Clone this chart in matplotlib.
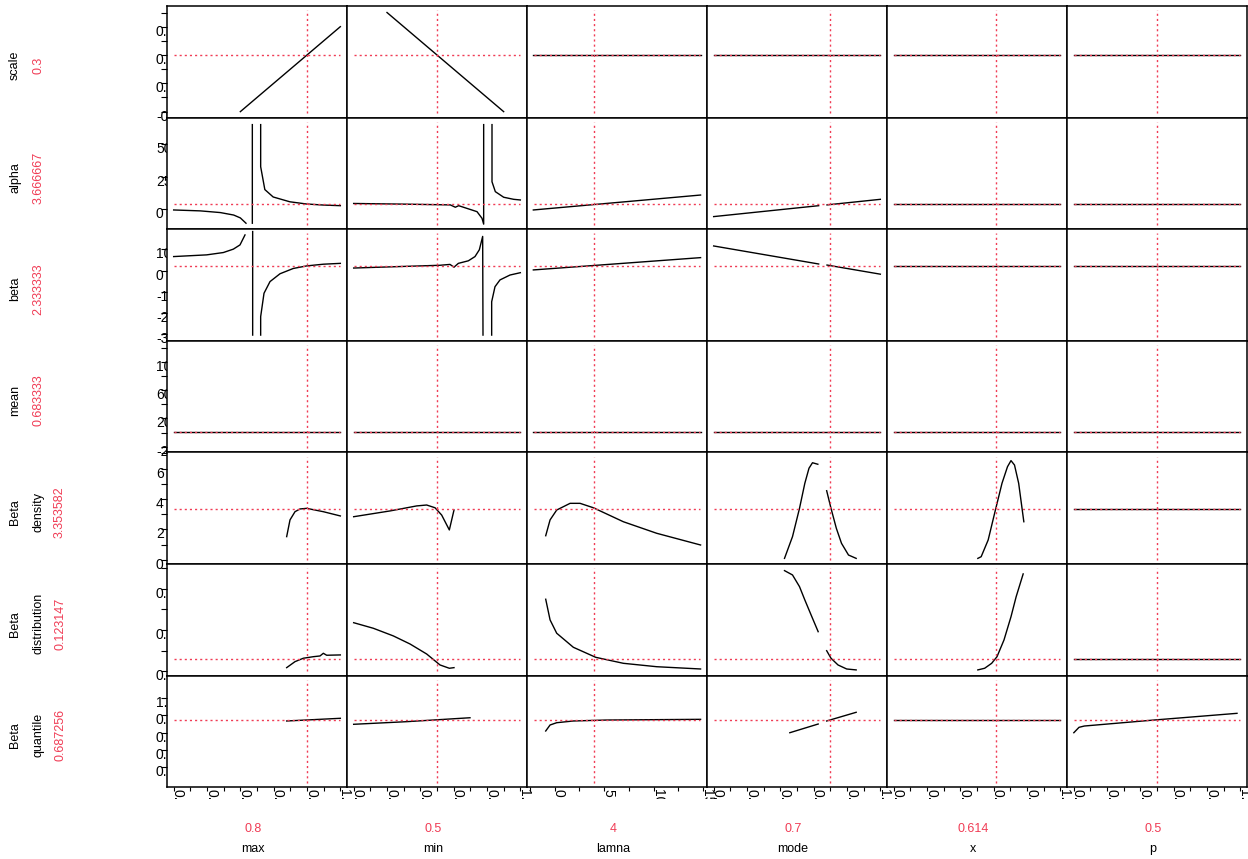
import numpy as np
import matplotlib
matplotlib.use("Agg")
import matplotlib.pyplot as plt
import matplotlib.transforms as mtransforms

plt.rcParams["font.family"] = ["Liberation Sans", "DejaVu Sans"]

NA = np.nan
RED = "#f03c55"
W, H = 1248, 859

# ── inputs along the bottom (one column each) ─────────────────────────────────
COL_NAMES  = ["max", "min", "lamna", "mode", "x", "p"]
COL_VALUES = [0.8, 0.5, 4, 0.7, 0.614, 0.5]
COL_LABELS = ["0.8", "0.5", "4", "0.7", "0.614", "0.5"]
COL_LIMITS = [(-0.04, 1.04), (-0.04, 1.04), (-2.78, 15.4),
              (-0.04, 1.04), (-0.04, 1.04), (-0.04, 1.04)]

UNIT_TICKS  = [0.0, 0.1, 0.2, 0.3, 0.4, 0.5, 0.6, 0.7, 0.8, 0.9, 1.0]
UNIT_LABELS = ["0.0", "", "0.2", "", "0.4", "", "0.6", "", "0.8", "", "1.0"]
LAMNA_TICKS  = [-2.5, 0, 2.5, 5, 7.5, 10, 12.5, 15]
LAMNA_LABELS = ["", "0", "", "5", "", "10", "", "15"]

# ── outputs down the side (one row each) ──────────────────────────────────────
ROW_NAMES  = [["scale"], ["alpha"], ["beta"], ["mean"],
              ["Beta", "density"], ["Beta", "distribution"], ["Beta", "quantile"]]
ROW_VALUES = [0.3, 3.666667, 2.333333, 0.683333, 3.353582, 0.123147, 0.687256]
ROW_LABELS = ["0.3", "3.666667", "2.333333", "0.683333", "3.353582", "0.123147", "0.687256"]
ROW_LIMITS = [(-0.142, 0.646), (-15.5, 70.4), (-33.1, 19.5), (-28.1, 129.5),
              (-0.27, 7.07), (-0.04, 1.04), (-0.29, 1.328)]

ROW_TICKS = [
    [-0.1, 0.0, 0.1, 0.2, 0.3, 0.4, 0.5, 0.6],
    [0, 25, 50],
    [-30, -20, -10, 0, 10],
    [-20, 0, 20, 40, 60, 80, 100, 120],
    [0, 1, 2, 3, 4, 5, 6, 7],
    [0.0, 0.2, 0.4, 0.6, 0.8, 1.0],
    [0.0, 0.25, 0.5, 0.75, 1.0],
]
ROW_TICK_LABELS = [
    ["-0.1", "", "0.1", "", "0.3", "", "0.5", ""],
    ["0", "25", "50"],
    ["-30", "-20", "-10", "0", "10"],
    ["-20", "", "20", "", "60", "", "100", ""],
    ["0", "", "2", "", "4", "", "6", ""],
    ["0.0", "", "0.4", "", "0.8", ""],
    ["0.00", "0.25", "0.50", "0.75", "1.00"],
]

# ── curves: one list per column, NaN breaks a line ───────────────────────────
SCALE_X = [[0.4, 1.0], [0.2, 0.9], [-2.14, 14.75], [0.0, 1.0], [0.0, 1.0], [0.0, 1.0]]
SCALE_Y = [[-0.1, 0.5], [0.6, -0.1], [0.3, 0.3], [0.3, 0.3], [0.3, 0.3], [0.3, 0.3]]

ALPHA_X = [
    [0.0, 0.16, 0.28, 0.36, 0.40, 0.434, NA, 0.472, 0.472, NA,
     0.522, 0.522, 0.547, 0.597, 0.697, 0.797, 0.897, 1.0],
    [0.0, 0.3, 0.58, 0.61, 0.63, 0.74, 0.77, 0.78, 0.78, NA,
     0.83, 0.83, 0.85, 0.90, 0.96, 1.0],
    [-2.14, 14.75],
    [0.0, 0.63, NA, 0.68, 1.0],
    [0.0, 1.0],
    [0.0, 1.0],
]
ALPHA_Y = [
    [-0.7, -1.4, -2.7, -4.6, -6.8, -10.9, NA, -10.9, 65.0, NA,
     65.0, 32.6, 15.0, 9.3, 5.6, 3.9, 3.1, 2.6],
    [4.3, 3.8, 3.2, 1.4, 2.6, -2.0, -7.1, -11.6, 65.0, NA,
     65.0, 21.0, 13.4, 9.1, 7.5, 7.0],
    [-0.7, 10.8],
    [-5.8, 2.6, NA, 3.2, 7.5],
    [3.667, 3.667],
    [3.667, 3.667],
]

BETA_X = [
    [0.0, 0.198, 0.298, 0.358, 0.398, 0.428, NA, 0.474, 0.474, NA,
     0.522, 0.522, 0.542, 0.578, 0.638, 0.718, 0.798, 0.898, 1.0],
    [0.0, 0.518, 0.578, 0.602, 0.628, 0.688, 0.728, 0.754, 0.774, 0.776, NA,
     0.828, 0.828, 0.848, 0.878, 0.938, 1.0],
    [-2.14, 14.75],
    [0.0, 0.63, NA, 0.68, 1.0],
    [0.0, 1.0],
    [0.0, 1.0],
]
BETA_Y = [
    [6.6, 7.4, 8.5, 10.1, 12.1, 16.8, NA, 18.4, -30.4, NA,
     -30.4, -21.7, -10.7, -5.2, -1.5, 1.0, 2.2, 3.0, 3.4],
    [1.2, 2.5, 2.9, 1.6, 3.4, 4.6, 6.6, 9.8, 16.1, -30.4, NA,
     -30.4, -14.7, -7.6, -4.4, -2.1, -1.0],
    [0.3, 6.1],
    [11.6, 3.1, NA, 2.6, -1.7],
    [2.333, 2.333],
    [2.333, 2.333],
]

MEAN_X = [[0.0, 1.0], [0.0, 1.0], [-2.14, 14.75], [0.0, 1.0], [0.0, 1.0], [0.0, 1.0]]
MEAN_Y = [[0.683, 0.683]] * 6

DENS_X = [
    [0.678, 0.698, 0.728, 0.758, 0.798, 0.898, 1.0],
    [0.0, 0.218, 0.378, 0.438, 0.488, 0.528, 0.574, 0.602],
    [-0.89, -0.45, 0.22, 1.57, 2.58, 3.92, 6.95, 10.32, 14.75],
    [0.425, 0.473, 0.515, 0.547, 0.572, 0.593, 0.625, NA,
     0.678, 0.704, 0.736, 0.767, 0.809, 0.855],
    [0.505, 0.525, 0.567, 0.608, 0.650, 0.683, 0.704, 0.725, 0.750, 0.781],
    [0.0, 1.0],
]
DENS_Y = [
    [1.53, 2.63, 3.17, 3.35, 3.39, 3.17, 2.89],
    [2.84, 3.22, 3.55, 3.61, 3.43, 2.95, 1.97, 3.28],
    [1.59, 2.63, 3.28, 3.72, 3.72, 3.43, 2.51, 1.75, 0.98],
    [0.1, 1.53, 3.39, 5.04, 6.03, 6.39, 6.29, NA,
     4.55, 3.39, 2.08, 1.09, 0.32, 0.1],
    [0.1, 0.21, 1.31, 3.17, 5.04, 6.13, 6.53, 6.24, 5.04, 2.51],
    [3.354, 3.354],
]

DIST_X = [
    [0.678, 0.728, 0.778, 0.838, 0.878, 0.898, 0.918, 1.0],
    [0.0, 0.118, 0.238, 0.338, 0.438, 0.518, 0.574, 0.602],
    [-0.89, -0.45, 0.22, 1.9, 4.16, 6.95, 10.32, 14.75],
    [0.425, 0.473, 0.515, 0.547, 0.589, 0.627, NA,
     0.678, 0.704, 0.746, 0.798, 0.855],
    [0.505, 0.546, 0.588, 0.620, 0.662, 0.704, 0.735, 0.777],
    [0.0, 1.0],
]
DIST_Y = [
    [0.037, 0.095, 0.128, 0.143, 0.15, 0.176, 0.157, 0.16],
    [0.472, 0.418, 0.344, 0.266, 0.169, 0.063, 0.031, 0.037],
    [0.699, 0.499, 0.37, 0.234, 0.137, 0.079, 0.046, 0.024],
    [0.976, 0.934, 0.821, 0.692, 0.53, 0.385, NA,
     0.201, 0.128, 0.063, 0.024, 0.015],
    [0.015, 0.031, 0.079, 0.143, 0.305, 0.53, 0.724, 0.944],
    [0.123, 0.123],
]

QUANT_X = [
    [0.678, 1.0],
    [0.0, 0.318, 0.698],
    [-0.89, -0.45, 0.22, 1.9, 5.27, 14.75],
    [0.457, 0.627, NA, 0.678, 0.855],
    [0.0, 1.0],
    [0.001, 0.032, 0.064, 0.483, 0.98],
]
QUANT_Y = [
    [0.67, 0.709],
    [0.622, 0.66, 0.717],
    [0.525, 0.612, 0.645, 0.67, 0.684, 0.694],
    [0.5, 0.626, NA, 0.67, 0.796],
    [0.687, 0.687],
    [0.5, 0.578, 0.597, 0.684, 0.781],
]

ROW_CURVES = [(SCALE_X, SCALE_Y), (ALPHA_X, ALPHA_Y), (BETA_X, BETA_Y),
              (MEAN_X, MEAN_Y), (DENS_X, DENS_Y), (DIST_X, DIST_Y),
              (QUANT_X, QUANT_Y)]

# ── layout ────────────────────────────────────────────────────────────────────
fig = plt.figure(figsize=(W / 100, H / 100), dpi=100, facecolor="white")
gs = fig.add_gridspec(7, 6, left=167 / W, right=1247 / W,
                      top=1 - 6 / H, bottom=1 - 787.2 / H, wspace=0, hspace=0)

# invisible strips used only to clip the tick labels, like the original device
ylab_ax = fig.add_axes([150 / W, 0, 17 / W, 1])
ylab_ax.axis("off")
xlab_ax = fig.add_axes([0, 1 - 799 / H, 1, (799 - 787.2) / H])
xlab_ax.axis("off")

dotted = (0, (1.5, 2.2))
axes = []
for r in range(7):
    xs_all, ys_all = ROW_CURVES[r]
    row_axes = []
    for c in range(6):
        ax = fig.add_subplot(gs[r, c])
        ax.plot(xs_all[c], ys_all[c], color="black", lw=1.0, zorder=2)
        ax.axvline(COL_VALUES[c], ymin=0.037, ymax=0.963, color=RED,
                   lw=1.0, ls=dotted, zorder=3)
        ax.axhline(ROW_VALUES[r], xmin=0.037, xmax=0.963, color=RED,
                   lw=1.0, ls=dotted, zorder=3)
        ax.set_xlim(COL_LIMITS[c])
        ax.set_ylim(ROW_LIMITS[r])
        for sp in ax.spines.values():
            sp.set_linewidth(1.1)
        ax.set_xticks([])
        ax.set_yticks([])
        row_axes.append(ax)
    axes.append(row_axes)

# y ticks + clipped labels on the first column
for r in range(7):
    ax = axes[r][0]
    ax.set_yticks(ROW_TICKS[r])
    ax.set_yticklabels([])
    ax.tick_params(axis="y", direction="out", length=4, width=0.8)
    tr = mtransforms.offset_copy(
        mtransforms.blended_transform_factory(ax.transAxes, ax.transData),
        fig=fig, x=-11, y=-5, units="dots")
    for t, lab in zip(ROW_TICKS[r], ROW_TICK_LABELS[r]):
        if lab:
            ylab_ax.text(0, t, lab, transform=tr, ha="left", va="center",
                         fontsize=10, clip_on=True)

# x ticks + clipped labels on the bottom row
for c in range(6):
    ax = axes[-1][c]
    ticks, labels = (LAMNA_TICKS, LAMNA_LABELS) if c == 2 else (UNIT_TICKS, UNIT_LABELS)
    ax.set_xticks(ticks)
    ax.set_xticklabels([])
    ax.tick_params(axis="x", direction="out", length=3, width=0.8)
    tr = mtransforms.offset_copy(
        mtransforms.blended_transform_factory(ax.transData, ax.transAxes),
        fig=fig, x=4, y=-2, units="dots")
    for t, lab in zip(ticks, labels):
        if lab:
            xlab_ax.text(t, 0, lab, transform=tr, rotation=270, ha="center",
                         va="top", fontsize=10, clip_on=True)

    # column name and reference value
    tr2 = mtransforms.offset_copy(
        mtransforms.blended_transform_factory(ax.transAxes, fig.transFigure),
        fig=fig, x=-4, y=0, units="dots")
    fig.text(0.5, 1 - 832 / H, COL_LABELS[c], transform=tr2, color=RED,
             ha="center", va="baseline", fontsize=9)
    fig.text(0.5, 1 - 852.3 / H, COL_NAMES[c], transform=tr2,
             ha="center", va="baseline", fontsize=9)

# row names and reference values on the left
LINE_X = [15 / W, 38.3 / W, 60 / W]
for r in range(7):
    ax = axes[r][0]
    tr = mtransforms.offset_copy(
        mtransforms.blended_transform_factory(fig.transFigure, ax.transAxes),
        fig=fig, x=0, y=-4, units="dots")
    lines = ROW_NAMES[r] + [ROW_LABELS[r]]
    for i, s in enumerate(lines):
        fig.text(LINE_X[i], 0.5, s, transform=tr, rotation=90,
                 ha="center", va="center", fontsize=9,
                 color=RED if i == len(lines) - 1 else "black")

fig.savefig("out.png", dpi=100, facecolor="white")
